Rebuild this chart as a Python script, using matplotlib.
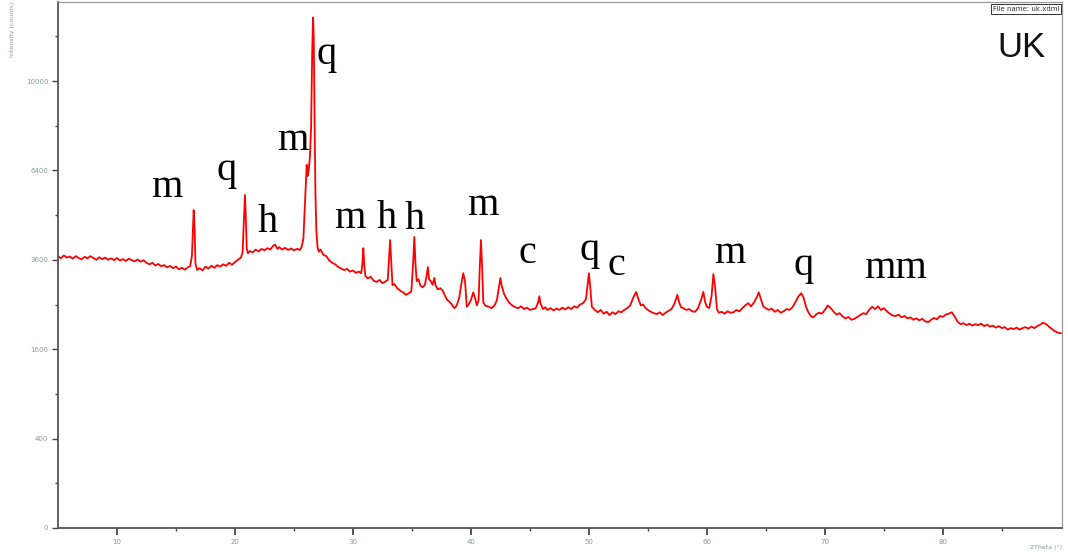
import matplotlib
matplotlib.use("Agg")
import matplotlib.pyplot as plt
import numpy as np

# XRD scan of sample UK (2theta in degrees, intensity in counts)
two_theta = [
    5.0, 5.25, 5.5, 5.75, 6.0, 6.25, 6.5, 6.75, 7.0, 7.25,
    7.5, 7.75, 8.0, 8.25, 8.5, 8.75, 9.0, 9.25, 9.5, 9.75,
    10.0, 10.25, 10.5, 10.75, 11.0, 11.25, 11.5, 11.75, 12.0, 12.25,
    12.5, 12.75, 13.0, 13.25, 13.5, 13.75, 14.0, 14.25, 14.5, 14.75,
    15.0, 15.25, 15.5, 15.75, 16.0, 16.2, 16.35, 16.45, 16.5, 16.58,
    16.65, 16.8, 17.0, 17.25, 17.5, 17.75, 18.0, 18.25, 18.5, 18.75,
    19.0, 19.25, 19.5, 19.75, 20.0, 20.25, 20.5, 20.65, 20.75, 20.85,
    20.92, 21.0, 21.1, 21.25, 21.5, 21.75, 22.0, 22.25, 22.5, 22.75,
    23.0, 23.25, 23.4, 23.6, 23.75, 24.0, 24.25, 24.5, 24.75, 25.0,
    25.25, 25.5, 25.65, 25.8, 25.9, 26.0, 26.08, 26.15, 26.25, 26.35,
    26.45, 26.55, 26.62, 26.68, 26.75, 26.82, 26.9, 27.0, 27.1, 27.25,
    27.5, 27.75, 28.0, 28.25, 28.5, 28.75, 29.0, 29.25, 29.5, 29.75,
    30.0, 30.25, 30.5, 30.7, 30.8, 30.88, 30.95, 31.05, 31.25, 31.5,
    31.75, 32.0, 32.25, 32.5, 32.75, 32.95, 33.05, 33.15, 33.25, 33.35,
    33.5, 33.75, 34.0, 34.25, 34.5, 34.75, 34.95, 35.1, 35.2, 35.3,
    35.4, 35.55, 35.7, 35.9, 36.1, 36.25, 36.35, 36.45, 36.6, 36.75,
    36.9, 37.0, 37.2, 37.4, 37.6, 37.8, 38.0, 38.2, 38.4, 38.6,
    38.8, 39.0, 39.2, 39.35, 39.5, 39.65, 39.8, 40.0, 40.2, 40.35,
    40.5, 40.65, 40.75, 40.85, 40.95, 41.05, 41.2, 41.5, 41.75, 42.0,
    42.2, 42.4, 42.5, 42.6, 42.8, 43.0, 43.25, 43.5, 43.75, 44.0,
    44.25, 44.5, 44.75, 45.0, 45.25, 45.5, 45.7, 45.8, 45.9, 46.1,
    46.3, 46.5, 46.75, 47.0, 47.25, 47.5, 47.75, 48.0, 48.25, 48.5,
    48.75, 49.0, 49.25, 49.5, 49.75, 49.9, 50.0, 50.1, 50.25, 50.5,
    50.75, 51.0, 51.25, 51.5, 51.75, 52.0, 52.25, 52.5, 52.75, 53.0,
    53.25, 53.5, 53.75, 54.0, 54.2, 54.4, 54.6, 54.8, 55.0, 55.25,
    55.5, 55.75, 56.0, 56.25, 56.5, 56.75, 57.0, 57.25, 57.5, 57.65,
    57.8, 58.0, 58.25, 58.5, 58.75, 59.0, 59.25, 59.5, 59.7, 59.85,
    60.0, 60.2, 60.4, 60.55, 60.7, 60.85, 61.0, 61.25, 61.5, 61.75,
    62.0, 62.25, 62.5, 62.75, 63.0, 63.25, 63.5, 63.75, 64.0, 64.2,
    64.4, 64.6, 64.8, 65.0, 65.25, 65.5, 65.75, 66.0, 66.25, 66.5,
    66.75, 67.0, 67.25, 67.5, 67.75, 68.0, 68.2, 68.4, 68.6, 68.8,
    69.0, 69.25, 69.5, 69.75, 70.0, 70.25, 70.5, 70.75, 71.0, 71.25,
    71.5, 71.75, 72.0, 72.25, 72.5, 72.75, 73.0, 73.25, 73.5, 73.75,
    74.0, 74.25, 74.5, 74.75, 75.0, 75.25, 75.5, 75.75, 76.0, 76.25,
    76.5, 76.75, 77.0, 77.25, 77.5, 77.75, 78.0, 78.25, 78.5, 78.75,
    79.0, 79.25, 79.5, 79.75, 80.0, 80.25, 80.5, 80.75, 81.0, 81.25,
    81.5, 81.75, 82.0, 82.25, 82.5, 82.75, 83.0, 83.25, 83.5, 83.75,
    84.0, 84.25, 84.5, 84.75, 85.0, 85.25, 85.5, 85.75, 86.0, 86.25,
    86.5, 86.75, 87.0, 87.25, 87.5, 87.75, 88.0, 88.25, 88.5, 88.75,
    89.0, 89.25, 89.5, 89.75, 90.0,
]
counts = [
    3700, 3640, 3720, 3660, 3690, 3630, 3700, 3650, 3610, 3680,
    3640, 3700, 3650, 3600, 3670, 3620, 3660, 3600, 3640, 3590,
    3650, 3580, 3620, 3570, 3630, 3590, 3560, 3610, 3550, 3590,
    3520, 3480, 3520, 3450, 3490, 3430, 3460, 3400, 3440, 3380,
    3420, 3350, 3390, 3340, 3400, 3430, 3700, 4600, 5060, 4500,
    3500, 3330, 3380, 3320, 3420, 3370, 3440, 3390, 3460, 3420,
    3480, 3440, 3520, 3470, 3540, 3600, 3660, 3800, 4700, 5550,
    4800, 3900, 3780, 3840, 3800, 3880, 3830, 3900, 3860, 3920,
    3880, 3990, 4020, 3900, 3950, 3880, 3930, 3870, 3910, 3860,
    3900, 3870, 3950, 4200, 5000, 5800, 6600, 6200, 6400, 6900,
    8000, 11500, 13050, 12000, 8200, 5600, 4400, 3950, 3820, 3880,
    3730, 3700, 3580, 3520, 3480, 3410, 3370, 3330, 3360, 3290,
    3320, 3260, 3290, 3250, 3500, 3920, 3500, 3180, 3120, 3160,
    3060, 3030, 3080, 3000, 3040, 3080, 3600, 4150, 3500, 2950,
    2980, 2880, 2820, 2780, 2720, 2760, 2800, 3500, 4240, 3500,
    3050, 3100, 2950, 2900, 2960, 3200, 3410, 3100, 3050, 2960,
    3130, 2950, 2850, 2880, 2820, 2700, 2600, 2560, 2490, 2420,
    2480, 2650, 3000, 3250, 3050, 2450, 2500, 2600, 2780, 2650,
    2480, 2600, 3400, 4150, 3400, 2550, 2480, 2450, 2420, 2480,
    2600, 2950, 3130, 2950, 2750, 2640, 2540, 2480, 2440, 2420,
    2460, 2400, 2430, 2380, 2400, 2420, 2550, 2690, 2520, 2400,
    2440, 2380, 2420, 2370, 2410, 2380, 2430, 2390, 2440, 2400,
    2460, 2430, 2500, 2530, 2620, 3000, 3250, 2950, 2450, 2380,
    2330, 2380, 2300, 2340, 2270, 2330, 2290, 2350, 2330, 2380,
    2420, 2480, 2650, 2790, 2620, 2480, 2500, 2420, 2380, 2340,
    2310, 2290, 2330, 2270, 2320, 2360, 2400, 2520, 2720, 2550,
    2440, 2420, 2380, 2400, 2350, 2340, 2420, 2600, 2790, 2560,
    2450, 2420, 2700, 3230, 2900, 2400, 2320, 2340, 2300, 2350,
    2320, 2330, 2380, 2350, 2420, 2480, 2530, 2460, 2550, 2650,
    2780, 2600, 2450, 2420, 2380, 2410, 2340, 2380, 2320, 2350,
    2400, 2380, 2440, 2550, 2680, 2760, 2650, 2450, 2330, 2250,
    2220, 2280, 2320, 2300, 2380, 2480, 2420, 2340, 2280, 2310,
    2240, 2200, 2230, 2170, 2190, 2230, 2270, 2310, 2290, 2380,
    2450, 2400, 2460, 2380, 2420, 2350, 2300, 2260, 2250, 2280,
    2220, 2250, 2200, 2220, 2170, 2200, 2160, 2190, 2140, 2120,
    2170, 2210, 2180, 2250, 2230, 2280, 2300, 2330, 2240, 2130,
    2080, 2100, 2060, 2090, 2050, 2080, 2060, 2090, 2040, 2070,
    2030, 2050, 2010, 2040, 2000, 2020, 1970, 2000, 1980, 2010,
    1970, 2000, 2020, 1990, 2030, 2000, 2040, 2070, 2110, 2080,
    2030, 1980, 1940, 1910, 1900,
]

# phase labels (m, q, h, c) and where they sit
phase_labels = ["m", "q", "h", "m", "q", "m", "h", "h", "m", "c", "q", "c", "m", "q", "mm"]
label_theta = [14.24, 19.32, 22.8, 24.92, 27.8, 29.75, 32.88, 35.25, 41.0, 44.83, 50.08, 52.37, 61.95, 68.2, 76.0]
label_counts = [5483, 6061, 4385, 7151, 10775, 4497, 4497, 4474, 4903, 3514, 3595, 3204, 3514, 3204, 3128]

y_major = [0, 400, 1600, 3600, 6400, 10000]
y_minor = [100, 900, 2500, 4900, 8100, 12100]
x_major = [10, 20, 30, 40, 50, 60, 70, 80]
x_minor = [15, 25, 35, 45, 55, 65, 75, 85]

assert len(two_theta) == len(counts)

W, H = 1068, 559
fig = plt.figure(figsize=(W / 100, H / 100), dpi=100)
ax = fig.add_axes([58 / W, 1 - 528 / H, (1062 - 58) / W, (528 - 2) / H])

ax.plot(two_theta, counts, color="#ff0000", lw=1.3)

# square-root intensity axis
ax.set_yscale("function", functions=(lambda v: np.sqrt(np.clip(v, 0, None)), lambda v: np.square(v)))
ax.set_xlim(5, 90.1)
ax.set_ylim(0, 13850)
ax.set_yticks(y_major)
ax.set_yticklabels([str(v) for v in y_major])
ax.set_yticks(y_minor, minor=True)
ax.set_xticks(x_major)
ax.set_xticks(x_minor, minor=True)

ax.tick_params(which="major", direction="out", length=4, width=1.0, color="#444444",
               labelsize=5, labelcolor="#8a9a9a", pad=3)
ax.tick_params(which="minor", direction="out", length=2, width=1.0, color="#444444")
ax.tick_params(axis="x", which="major", length=5, width=1.3)

for s in ["left", "bottom"]:
    ax.spines[s].set_color("#555555")
    ax.spines[s].set_linewidth(1.3)
for s in ["top", "right"]:
    ax.spines[s].set_color("#999999")
    ax.spines[s].set_linewidth(0.9)

for lab, tx, ty in zip(phase_labels, label_theta, label_counts):
    ax.text(tx, ty, lab, family="Liberation Serif", fontsize=29, color="black",
            ha="center", va="baseline")

fig.text(13 / W, 1 - 2 / H, "Intensity (counts)", rotation=90, fontsize=4.5,
         color="#8a9a9a", ha="center", va="top")
fig.text(1062 / W, 1 - 548 / H, "2Theta (\u00b0)", fontsize=4.5, color="#8a9a9a",
         ha="right", va="center")
fig.text(1026 / W, 1 - 9 / H, "File name: uk.xdml", fontsize=5, color="#333333",
         ha="center", va="center",
         bbox=dict(boxstyle="square,pad=0.3", fc="white", ec="#333333", lw=0.7))
fig.text(1046 / W, 1 - 57 / H, "UK", family="Liberation Sans", fontsize=25,
         color="#111111", ha="right", va="baseline")

fig.savefig("out.png", dpi=100)
